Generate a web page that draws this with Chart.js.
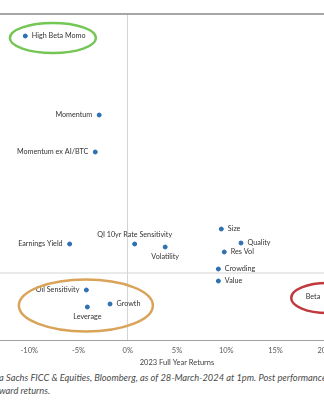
<!DOCTYPE html>
<html>
<head>
<meta charset="utf-8">
<script src="https://cdn.jsdelivr.net/npm/chart.js@4.4.1/dist/chart.umd.min.js"></script>
<style>
  html, body { margin: 0; padding: 0; background: #fff; overflow: hidden; width: 324px; height: 400px; }
  #wrap { position: absolute; left: -23px; top: 0; width: 400px; height: 370px; }
  .note { position: absolute; left: -1px; white-space: nowrap; font-family: Lato, sans-serif; font-style: italic; font-size: 9.3px; color: #4a4a4a; }
</style>
</head>
<body>
<div id="wrap"><canvas id="grafico"></canvas></div>
<div class="note" style="top:372px">a Sachs FICC &amp; Equities, Bloomberg, as of 28-March-2024 at 1pm. Post performance</div>
<div class="note" style="top:385px">ward returns.</div>
<script>
const factores = ['High Beta Momo', 'Momentum', 'Momentum ex AI/BTC', 'Earnings Yield', 'QI 10yr Rate Sensitivity',
  'Volatility', 'Size', 'Quality', 'Res Vol', 'Crowding', 'Value', 'Oil Sensitivity', 'Leverage', 'Growth', 'Beta']
const retorno2023 = [-10.4, -2.9, -3.3, -5.9, 0.7, 3.8, 9.5, 11.5, 9.8, 9.2, 9.2, -4.2, -4.1, -1.8, 20.25]
const retornoYtd = [23.7, 15.8, 12.1, 2.9, 2.9, 2.6, 4.4, 3.0, 2.1, 0.4, -0.8, -1.7, -3.4, -3.1, -2.4]
const ticksX = [-10, -5, 0, 5, 10, 15, 20]

// where each label goes relative to its dot
const lado = ['right', 'left', 'left', 'left', 'above', 'below', 'right', 'right', 'right', 'right', 'right', 'left', 'below', 'right', 'left']

// circled groups: centre (x, y in data units), radii in px
const circulos = [
  { x: -7.6, y: 23.5, rx: 43, ry: 15, color: '#74c655' },
  { x: -4.25, y: -3.25, rx: 67, ry: 26, color: '#d9a45a' },
  { x: 20.25, y: -2.5, rx: 36, ry: 15, color: '#c0393f' }
]

const etiquetas = {
  id: 'etiquetas',
  afterDatasetsDraw(chart) {
    const ctx = chart.ctx
    const meta = chart.getDatasetMeta(0)
    ctx.save()
    ctx.font = '7.2px Lato, sans-serif'
    ctx.fillStyle = '#333'
    meta.data.forEach((p, i) => {
      let x = p.x, y = p.y
      ctx.textBaseline = 'middle'
      if (lado[i] === 'right') { ctx.textAlign = 'left'; x += 6.5 }
      else if (lado[i] === 'left') { ctx.textAlign = 'right'; x -= 7 }
      else if (lado[i] === 'above') { ctx.textAlign = 'center'; y -= 9 }
      else { ctx.textAlign = 'center'; y += 10 }
      ctx.fillText(factores[i], x, y)
    })
    const sx = chart.scales.x, sy = chart.scales.y
    ctx.lineWidth = 2.5
    circulos.forEach(c => {
      ctx.strokeStyle = c.color
      ctx.beginPath()
      ctx.ellipse(sx.getPixelForValue(c.x), sy.getPixelForValue(c.y), c.rx, c.ry, 0, 0, Math.PI * 2)
      ctx.stroke()
    })
    ctx.restore()
  },
  beforeDatasetsDraw(chart) {
    const ctx = chart.ctx
    const a = chart.chartArea
    const y0 = chart.scales.y.getPixelForValue(0)
    ctx.save()
    ctx.strokeStyle = '#d4d4d4'
    ctx.lineWidth = 1
    ctx.beginPath()
    ctx.moveTo(a.left, y0)
    ctx.lineTo(a.right, y0)
    ctx.stroke()
    ctx.strokeStyle = '#a6a6a6'
    ctx.lineWidth = 2
    ctx.beginPath()
    ctx.moveTo(a.left, a.top)
    ctx.lineTo(a.right, a.top)
    ctx.stroke()
    ctx.restore()
  }
}

new Chart(document.getElementById('grafico'), {
  type: 'scatter',
  data: {
    datasets: [{
      label: '2024 YTD',
      data: retorno2023.map((x, i) => ({ x: x, y: retornoYtd[i] })),
      backgroundColor: '#2e6fb0',
      borderColor: '#2e6fb0',
      pointRadius: 2,
      pointHoverRadius: 2
    }]
  },
  options: {
    responsive: true,
    maintainAspectRatio: false,
    animation: false,
    events: [],
    layout: { padding: { top: 14, left: 0, right: 0, bottom: 0 } },
    plugins: { legend: { display: false }, tooltip: { enabled: false } },
    scales: {
      x: {
        min: -15,
        max: 25,
        afterBuildTicks: s => { s.ticks = ticksX.map(v => ({ value: v })) },
        afterFit: s => { s.height = 30 },
        grid: {
          drawTicks: false,
          color: c => (c.tick && c.tick.value === 0) ? '#d4d4d4' : 'rgba(0,0,0,0)'
        },
        border: { color: '#a0a0a0', width: 1 },
        ticks: {
          padding: 6,
          maxRotation: 0,
          autoSkip: false,
          color: '#595959',
          font: { family: 'Lato, sans-serif', size: 7.5 },
          callback: v => v + '%'
        },
        title: {
          display: true,
          text: '2023 Full Year Returns',
          color: '#404040',
          font: { family: 'Lato, sans-serif', size: 7.5 },
          padding: { top: 0, bottom: 3 }
        }
      },
      y: {
        display: false,
        min: -6.7,
        max: 25.9
      }
    }
  },
  plugins: [etiquetas]
})
</script>
</body>
</html>
